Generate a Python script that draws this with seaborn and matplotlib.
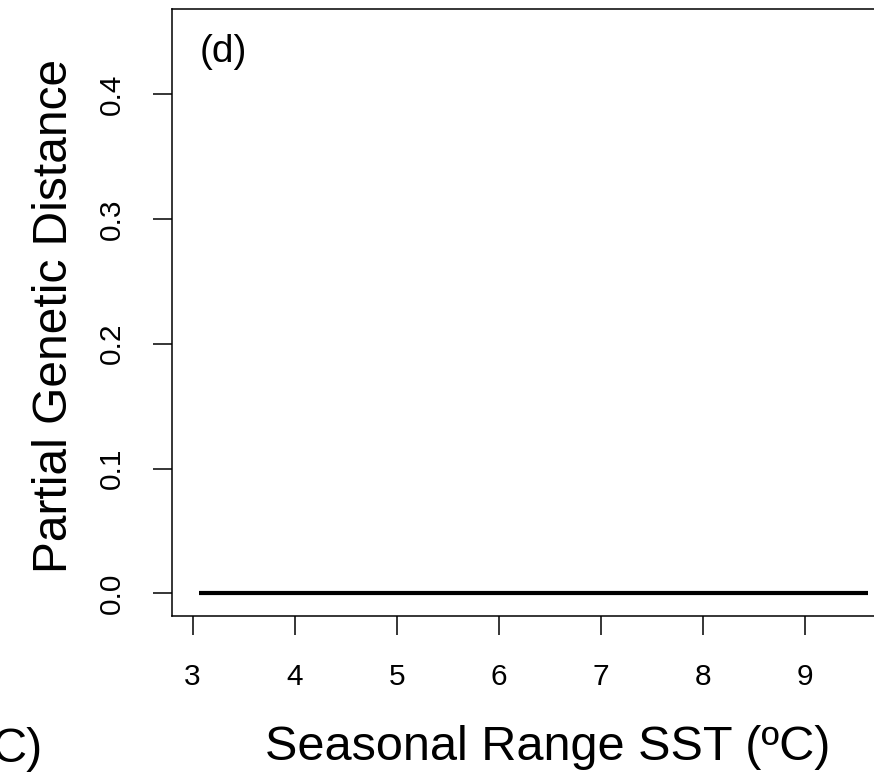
#!/usr/bin/env python3
# Partial genetic distance vs seasonal range of SST, panel (d)

import numpy as np
import pandas as pd
import matplotlib
matplotlib.use('Agg')
import matplotlib.pyplot as plt
import seaborn as sns

# Data
seasonal_range = [3.06, 9.62]
partial_dist = [0.0, 0.0]
x_ticks = [3, 4, 5, 6, 7, 8, 9]
y_ticks = [0.0, 0.1, 0.2, 0.3, 0.4]
y_tick_labels = ['0.0', '0.1', '0.2', '0.3', '0.4']

df = pd.DataFrame({'range': seasonal_range, 'dist': partial_dist})

sns.set_style('ticks')
plt.rcParams['font.family'] = ['Liberation Sans', 'DejaVu Sans']
plt.rcParams['text.color'] = 'black'
plt.rcParams['axes.labelcolor'] = 'black'

fig = plt.figure(figsize=(8.74, 7.72), dpi=100)
ax = fig.add_axes([0.1968, 0.2021, 0.8272, 0.7863])
ax.patch.set_visible(False)

sns.lineplot(x='range', y='dist', data=df, color='black', lw=3.0,
             solid_capstyle='butt', ax=ax)

# R style 4% padding around the data range
x0, x1 = min(seasonal_range), max(seasonal_range)
pad = (x1 - x0) * 0.04
ax.set_xlim(x0 - pad, x1 + pad)
ax.set_ylim(-0.45 * 0.04, 0.45 * 1.04)

ax.set_xticks(x_ticks)
ax.set_xticklabels([str(t) for t in x_ticks])
ax.set_yticks(y_ticks)
ax.set_yticklabels(y_tick_labels, rotation=90, va='center')

for s in ax.spines.values():
    s.set_linewidth(1.1)
    s.set_color('black')
# the right side of the box lies past the cropped edge
ax.spines['right'].set_visible(False)

ax.tick_params(axis='both', length=14, width=1.1, color='black',
               labelsize=21.5, labelcolor='black')
ax.tick_params(axis='x', pad=20)
ax.tick_params(axis='y', pad=19)

ax.set_xlabel('Seasonal Range SST (ºC)', fontsize=35)
ax.xaxis.label.set_va('center')
ax.xaxis.set_label_coords(0.52, -0.217)
ax.set_ylabel('Partial Genetic Distance', fontsize=34.5)
ax.yaxis.label.set_va('center')
ax.yaxis.set_label_coords(-0.163, 0.494)

ax.text(0.0387, 0.929, '(d)', transform=ax.transAxes, fontsize=28,
        ha='left', va='center', color='black')

# tail of the neighbouring panel's axis label
fig.text(43 / 874, 1 - 762 / 772, 'C)', fontsize=35, ha='right',
         va='baseline', color='black')

plt.savefig('out.png', dpi=100)
